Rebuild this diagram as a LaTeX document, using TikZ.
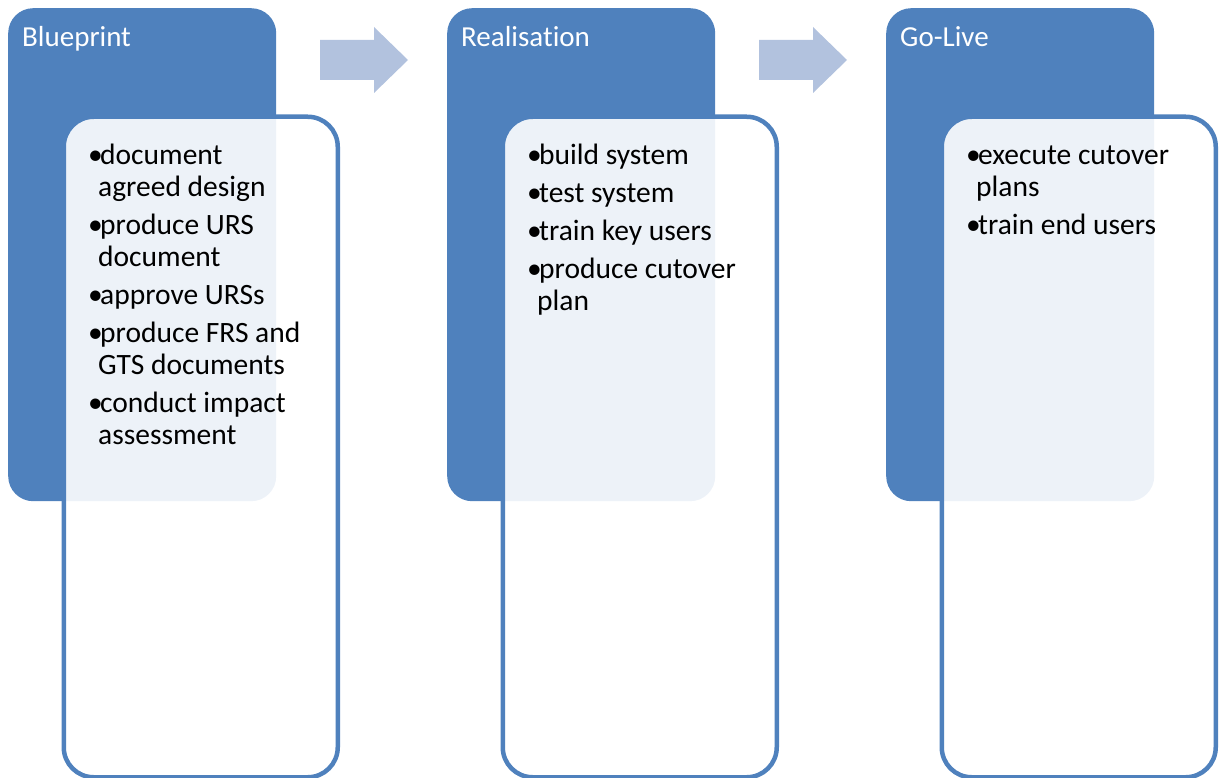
\documentclass[tikz,border=0pt]{standalone}
\usepackage{fontspec}
\setmainfont{Carlito}[RawFeature={-liga;-clig}]
\usetikzlibrary{calc}
\definecolor{accent}{RGB}{79,129,189}
\definecolor{arrowc}{RGB}{178,194,222}
\newcommand\bulmark{\makebox[12pt][l]{\textbullet}}
\newcommand\contline{\hspace*{10pt}}
\tikzset{
  darkbox/.style={fill=accent, draw=none, rounded corners=25pt, inner sep=0pt,
    minimum width=268pt, minimum height=493pt, anchor=north west},
  lightbox/.style={draw=accent, line width=4.5pt, fill=white, fill opacity=0.9,
    draw opacity=1, rounded corners=30pt, inner sep=0pt,
    minimum width=274pt, minimum height=660.5pt, anchor=north west},
  titletext/.style={text=white, inner sep=0pt, anchor=base west,
    font=\fontsize{29}{32}\selectfont},
  bodytext/.style={text=black, inner sep=0pt, anchor=north west, align=left,
    font=\fontsize{29.5}{32}\selectfont},
  arrowshape/.style={fill=arrowc, draw=none}
}
\begin{document}
\begin{tikzpicture}[x=1pt,y=1pt]
\useasboundingbox (0,0) rectangle (1219,-778);
% column 1
\node[darkbox] (d1) at (8,-8) {};
\node[lightbox] (l1) at (61.5,-114.5) {};
\node[titletext] (t1) at (22,-47) {Blueprint};
\node[bodytext] (b1) at (88,-141.6) {\strut\bulmark document\\\contline agreed design\\[6pt]
\bulmark produce URS\\\contline document\\[6pt]
\bulmark approve URSs\\[6pt]
\bulmark produce FRS and\\\contline GTS documents\\[6pt]
\bulmark conduct impact\\\contline assessment};
% arrow 1
\coordinate (a1) at (320,-60);
\fill[arrowshape] ($(a1)+(0,20)$) -- ++(54,0) -- ++(0,13) -- ++(34,-33) -- ++(-34,-33) -- ++(0,13) -- ++(-54,0) -- cycle;
% column 2
\node[darkbox] (d2) at (447,-8) {};
\node[lightbox] (l2) at (500.5,-114.5) {};
\node[titletext] (t2) at (461,-47) {Realisation};
\node[bodytext] (b2) at (527,-141.6) {\strut\bulmark build system\\[6pt]
\bulmark test system\\[6pt]
\bulmark train key users\\[6pt]
\bulmark produce cutover\\\contline plan};
% arrow 2
\coordinate (a2) at (759,-60);
\fill[arrowshape] ($(a2)+(0,20)$) -- ++(54,0) -- ++(0,13) -- ++(34,-33) -- ++(-34,-33) -- ++(0,13) -- ++(-54,0) -- cycle;
% column 3
\node[darkbox] (d3) at (886,-8) {};
\node[lightbox] (l3) at (939.5,-114.5) {};
\node[titletext] (t3) at (900,-47) {Go-Live};
\node[bodytext] (b3) at (966,-141.6) {\strut\bulmark execute cutover\\\contline plans\\[6pt]
\bulmark train end users};
\end{tikzpicture}
\end{document}
